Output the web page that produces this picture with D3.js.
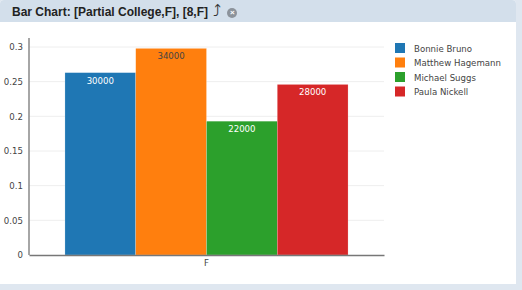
<!DOCTYPE html>
<html>
<head>
<meta charset="utf-8">
<script src="https://cdn.jsdelivr.net/npm/d3@7"></script>
<style>
  body { margin: 0; background: #dfe7f0; }
  #panel { position: absolute; left: 0; top: 0; width: 516px; height: 284px; background: #fff; border-radius: 4px 4px 0 0; overflow: hidden; }
  #head { height: 22px; background: #d3dfeb; font: bold 12px "Liberation Sans", Arial, sans-serif; color: #222; line-height: 22px; padding-left: 12px; white-space: nowrap; }
  #head .arrow { font-weight: normal; font-size: 16px; color: #333; margin-left: 2px; }
  #head .close { display: inline-block; width: 10px; height: 10px; border-radius: 5px; background: #8c939b; color: #fff; font-size: 8px; line-height: 10px; text-align: center; vertical-align: 1px; margin-left: 6px; }
</style>
</head>
<body>
<div id="panel">
  <div id="head">Bar Chart: [Partial College,F], [8,F] <span class="arrow">⤴</span><span class="close">×</span></div>
</div>
<script>
// Data
const categories = ["F"]
const people = ["Bonnie Bruno", "Matthew Hagemann", "Michael Suggs", "Paula Nickell"]
const counts = [30000, 34000, 22000, 28000]
const shares = [0.263, 0.298, 0.193, 0.246]
const colors = ["#1f77b4", "#ff7f0e", "#2ca02c", "#d62728"]
const labelColors = ["#fff", "#444", "#fff", "#fff"]
const yTicks = [0, 0.05, 0.1, 0.15, 0.2, 0.25, 0.3]

const margin = {top: 47, left: 29}
const width = 355
const height = 208
const font = "8.6px 'DejaVu Sans', Verdana, sans-serif"

const svg = d3.select("#panel").append("svg")
    .attr("width", 516)
    .attr("height", 284)
    .style("position", "absolute")
    .style("left", 0)
    .style("top", 0)

const g = svg.append("g")
    .attr("transform", "translate(" + margin.left + "," + margin.top + ")")

const x = d3.scaleBand().domain(categories).range([0, width]).paddingInner(0).paddingOuter(0.127)
const xs = d3.scaleBand().domain(people).range([0, x.bandwidth()])
const y = d3.scaleLinear().domain([0, 0.3]).range([height, 0])

// gridlines
g.selectAll(".grid")
    .data(yTicks.slice(1))
    .join("line")
    .attr("x1", 0).attr("x2", width)
    .attr("y1", d => y(d)).attr("y2", d => y(d))
    .attr("stroke", "#eee")

const rows = people.map((p, i) => ({name: p, share: shares[i], count: counts[i], color: colors[i], lc: labelColors[i]}))

const cat = g.append("g").attr("transform", "translate(" + x("F") + ",0)")
cat.selectAll("rect")
    .data(rows)
    .join("rect")
    .attr("x", d => xs(d.name))
    .attr("y", d => y(d.share))
    .attr("width", xs.bandwidth())
    .attr("height", d => height - y(d.share))
    .attr("fill", d => d.color)
    .attr("stroke", "#fff")
    .attr("stroke-opacity", 0.4)
    .attr("stroke-width", 0.5)

cat.selectAll("text")
    .data(rows)
    .join("text")
    .attr("x", d => xs(d.name) + xs.bandwidth() / 2)
    .attr("y", d => y(d.share) + 11)
    .attr("text-anchor", "middle")
    .attr("fill", d => d.lc)
    .style("font", font)
    .text(d => d.count)

// axes
const yAxis = g.append("g")
    .call(d3.axisLeft(y).tickValues(yTicks).tickSize(0).tickPadding(6).tickFormat(d3.format("~g")))
yAxis.select(".domain").attr("stroke", "#888").attr("stroke-width", 1.5).attr("d", "M0," + (-9) + "V" + height)
yAxis.selectAll("text").attr("fill", "#444").style("font", font)

const xAxis = g.append("g")
    .attr("transform", "translate(0," + height + ")")
    .call(d3.axisBottom(x).tickSize(0).tickPadding(5))
xAxis.select(".domain").attr("stroke", "#777").attr("stroke-width", 1.5)
xAxis.selectAll("text").attr("fill", "#444").style("font", font)

// legend
const legend = svg.append("g").attr("transform", "translate(395,43)")
const item = legend.selectAll("g")
    .data(rows)
    .join("g")
    .attr("transform", (d, i) => "translate(0," + i * 14.5 + ")")
item.append("rect").attr("width", 10).attr("height", 10).attr("fill", d => d.color)
item.append("text")
    .attr("x", 19).attr("y", 8.5)
    .attr("fill", "#444")
    .style("font", font)
    .text(d => d.name)
</script>
</body>
</html>
